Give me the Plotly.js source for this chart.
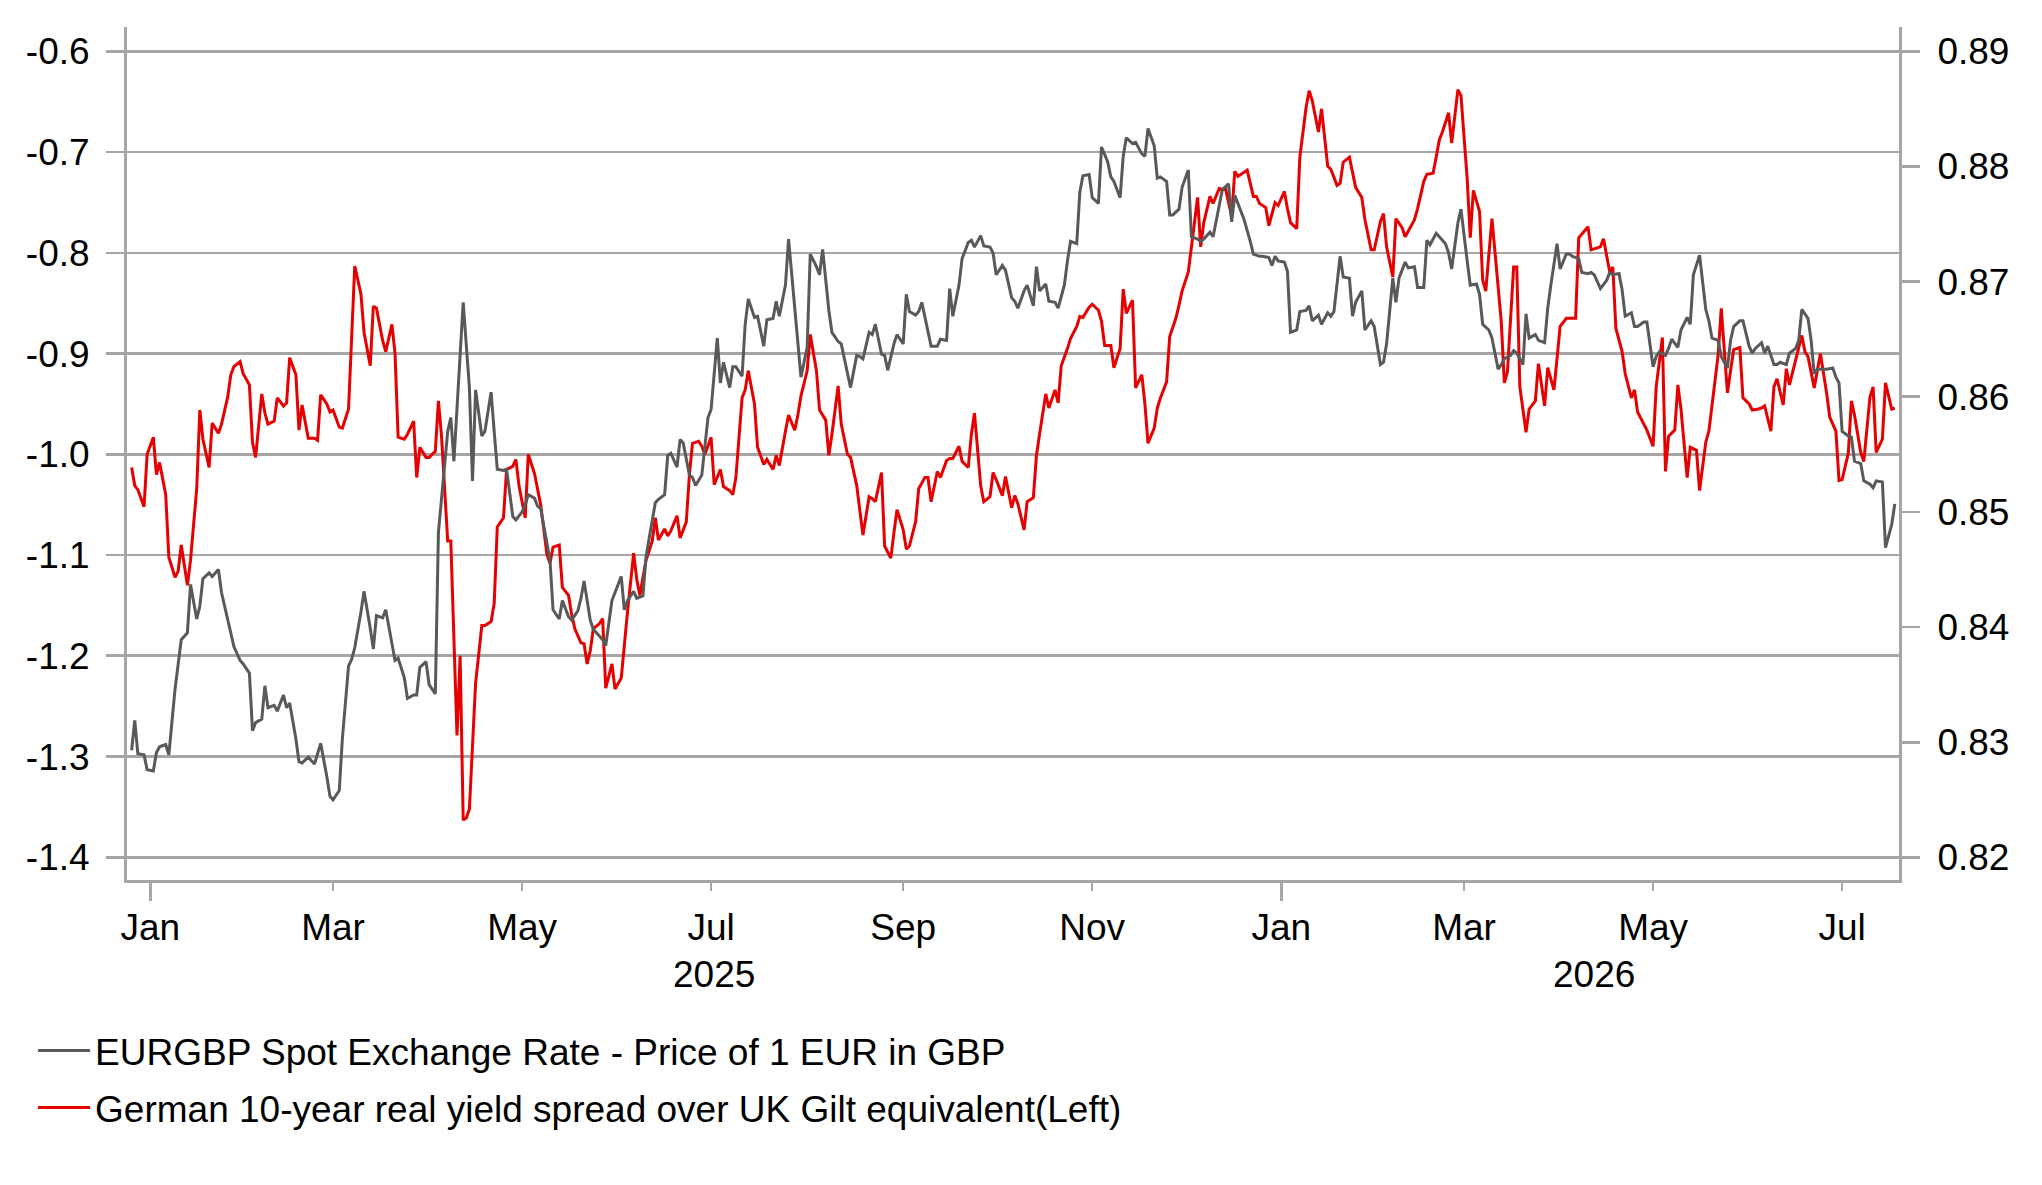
<!DOCTYPE html>
<html>
<head>
<meta charset="utf-8">
<script src="https://cdn.plot.ly/plotly-3.0.1.min.js"></script>
<style>
  html, body { margin: 0; padding: 0; background: #fff; }
  #chart { width: 2042px; height: 1185px; }
</style>
</head>
<body>
<div id="chart"></div>
<script>
// German 10y real yield spread over UK gilt (left axis)
var spreadDates = [
  "2024-12-26","2024-12-27","2024-12-28","2024-12-30","2024-12-31",
  "2025-01-02","2025-01-03","2025-01-04","2025-01-06","2025-01-07","2025-01-09","2025-01-10","2025-01-11","2025-01-13","2025-01-14","2025-01-16","2025-01-17","2025-01-18","2025-01-20","2025-01-21","2025-01-23","2025-01-24","2025-01-26","2025-01-27","2025-01-28","2025-01-30","2025-01-31",
  "2025-02-02","2025-02-03","2025-02-04","2025-02-06","2025-02-07","2025-02-08","2025-02-10","2025-02-11","2025-02-13","2025-02-14","2025-02-15","2025-02-17","2025-02-18","2025-02-19","2025-02-21","2025-02-23","2025-02-24","2025-02-25","2025-02-27","2025-02-28",
  "2025-03-01","2025-03-03","2025-03-04","2025-03-06","2025-03-07","2025-03-08","2025-03-10","2025-03-11","2025-03-13","2025-03-14","2025-03-15","2025-03-17","2025-03-18","2025-03-20","2025-03-21","2025-03-22","2025-03-24","2025-03-25","2025-03-27","2025-03-28","2025-03-29","2025-03-31",
  "2025-04-01","2025-04-03","2025-04-04","2025-04-05","2025-04-07","2025-04-08","2025-04-10","2025-04-11","2025-04-12","2025-04-13","2025-04-14","2025-04-15","2025-04-16","2025-04-18","2025-04-19","2025-04-21","2025-04-22","2025-04-23","2025-04-25","2025-04-26","2025-04-28","2025-04-29","2025-04-30",
  "2025-05-02","2025-05-03","2025-05-05","2025-05-06","2025-05-07","2025-05-09","2025-05-10","2025-05-11","2025-05-13","2025-05-14","2025-05-16","2025-05-17","2025-05-18","2025-05-20","2025-05-21","2025-05-22","2025-05-23","2025-05-24","2025-05-26","2025-05-27","2025-05-28","2025-05-30","2025-05-31",
  "2025-06-02","2025-06-03","2025-06-04","2025-06-06","2025-06-07","2025-06-08","2025-06-10","2025-06-11","2025-06-12","2025-06-13","2025-06-14","2025-06-16","2025-06-17","2025-06-18","2025-06-20","2025-06-21","2025-06-23","2025-06-24","2025-06-25","2025-06-27","2025-06-28","2025-06-29",
  "2025-07-01","2025-07-02","2025-07-04","2025-07-05","2025-07-07","2025-07-08","2025-07-09","2025-07-11","2025-07-12","2025-07-13","2025-07-15","2025-07-16","2025-07-18","2025-07-19","2025-07-21","2025-07-22","2025-07-23","2025-07-25","2025-07-26","2025-07-28","2025-07-29","2025-07-30",
  "2025-08-01","2025-08-02","2025-08-04","2025-08-05","2025-08-07","2025-08-08","2025-08-09","2025-08-11","2025-08-12","2025-08-14","2025-08-15","2025-08-17","2025-08-18","2025-08-19","2025-08-21","2025-08-22","2025-08-23","2025-08-25","2025-08-26","2025-08-28","2025-08-29","2025-08-30",
  "2025-09-01","2025-09-02","2025-09-03","2025-09-05","2025-09-06","2025-09-08","2025-09-09","2025-09-10","2025-09-12","2025-09-13","2025-09-15","2025-09-16","2025-09-17","2025-09-19","2025-09-20","2025-09-22","2025-09-23","2025-09-24","2025-09-26","2025-09-27","2025-09-29","2025-09-30",
  "2025-10-01","2025-10-03","2025-10-04","2025-10-06","2025-10-07","2025-10-08","2025-10-10","2025-10-11","2025-10-13","2025-10-14","2025-10-15","2025-10-17","2025-10-18","2025-10-20","2025-10-21","2025-10-22","2025-10-24","2025-10-25","2025-10-27","2025-10-28","2025-10-29","2025-10-31",
  "2025-11-01","2025-11-03","2025-11-04","2025-11-05","2025-11-07","2025-11-08","2025-11-10","2025-11-11","2025-11-12","2025-11-14","2025-11-15","2025-11-17","2025-11-18","2025-11-19","2025-11-21","2025-11-22","2025-11-23","2025-11-25","2025-11-26","2025-11-28","2025-11-29","2025-11-30",
  "2025-12-02","2025-12-03","2025-12-04","2025-12-05","2025-12-06","2025-12-07","2025-12-09","2025-12-10","2025-12-12","2025-12-13","2025-12-14","2025-12-16","2025-12-17","2025-12-18","2025-12-20","2025-12-21","2025-12-23","2025-12-24","2025-12-25","2025-12-27","2025-12-28","2025-12-30","2025-12-31",
  "2026-01-02","2026-01-03","2026-01-04","2026-01-06","2026-01-07","2026-01-09","2026-01-10","2026-01-11","2026-01-13","2026-01-14","2026-01-16","2026-01-17","2026-01-19","2026-01-20","2026-01-21","2026-01-23","2026-01-24","2026-01-25","2026-01-27","2026-01-28","2026-01-30","2026-01-31",
  "2026-02-02","2026-02-03","2026-02-04","2026-02-06","2026-02-07","2026-02-09","2026-02-10","2026-02-11","2026-02-13","2026-02-14","2026-02-16","2026-02-17","2026-02-19","2026-02-20","2026-02-21","2026-02-22","2026-02-24","2026-02-25","2026-02-27","2026-02-28",
  "2026-03-02","2026-03-03","2026-03-04","2026-03-06","2026-03-07","2026-03-08","2026-03-10","2026-03-11","2026-03-13","2026-03-14","2026-03-15","2026-03-17","2026-03-18","2026-03-19","2026-03-21","2026-03-22","2026-03-24","2026-03-25","2026-03-27","2026-03-28","2026-03-30","2026-03-31",
  "2026-04-01","2026-04-03","2026-04-04","2026-04-06","2026-04-07","2026-04-08","2026-04-10","2026-04-11","2026-04-12","2026-04-14","2026-04-15","2026-04-17","2026-04-18","2026-04-19","2026-04-21","2026-04-22","2026-04-24","2026-04-25","2026-04-26","2026-04-28","2026-04-29",
  "2026-05-01","2026-05-02","2026-05-04","2026-05-05","2026-05-06","2026-05-08","2026-05-09","2026-05-10","2026-05-12","2026-05-13","2026-05-15","2026-05-16","2026-05-18","2026-05-19","2026-05-20","2026-05-22","2026-05-23","2026-05-25","2026-05-26","2026-05-27","2026-05-29","2026-05-30",
  "2026-06-01","2026-06-02","2026-06-04","2026-06-05","2026-06-06","2026-06-08","2026-06-09","2026-06-10","2026-06-12","2026-06-13","2026-06-14","2026-06-16","2026-06-18","2026-06-19","2026-06-20","2026-06-22","2026-06-23","2026-06-24","2026-06-26","2026-06-27","2026-06-29","2026-06-30",
  "2026-07-01","2026-07-03","2026-07-04","2026-07-05","2026-07-07","2026-07-08","2026-07-10","2026-07-11","2026-07-12","2026-07-14","2026-07-15","2026-07-17","2026-07-18"
];
var spreadValues = [
  -1.013,-1.031,-1.035,-1.052,-1.000,
  -0.983,-1.020,-1.008,-1.040,-1.102,-1.122,-1.116,-1.090,-1.130,-1.105,-1.034,-0.956,-0.985,-1.013,-0.969,-0.979,-0.970,-0.943,-0.921,-0.913,-0.908,-0.920,
  -0.931,-0.988,-1.003,-0.940,-0.959,-0.970,-0.967,-0.944,-0.952,-0.949,-0.904,-0.921,-0.976,-0.951,-0.984,-0.984,-0.986,-0.941,-0.950,-0.958,
  -0.956,-0.973,-0.974,-0.955,-0.890,-0.813,-0.841,-0.879,-0.912,-0.853,-0.855,-0.887,-0.898,-0.871,-0.900,-0.983,-0.985,-0.980,-0.967,-1.023,-0.993,-1.003,
  -1.003,-0.997,-0.947,-0.982,-1.086,-1.086,-1.279,-1.200,-1.363,-1.361,-1.352,-1.287,-1.227,-1.170,-1.170,-1.166,-1.148,-1.072,-1.063,-1.015,-1.012,-1.005,-1.031,
  -1.063,-1.000,-1.019,-1.034,-1.050,-1.099,-1.108,-1.092,-1.090,-1.132,-1.140,-1.159,-1.173,-1.187,-1.188,-1.208,-1.195,-1.173,-1.168,-1.163,-1.232,-1.208,-1.233,
  -1.222,-1.189,-1.157,-1.098,-1.124,-1.140,-1.105,-1.096,-1.086,-1.063,-1.085,-1.074,-1.081,-1.076,-1.061,-1.083,-1.067,-1.020,-0.989,-0.987,-0.992,-1.000,
  -0.983,-1.030,-1.015,-1.032,-1.036,-1.040,-1.023,-0.944,-0.936,-0.917,-0.950,-0.993,-1.010,-1.005,-1.015,-1.001,-1.011,-0.977,-0.961,-0.976,-0.961,-0.942,
  -0.917,-0.881,-0.917,-0.956,-0.966,-1.001,-0.980,-0.932,-0.970,-1.000,-1.003,-1.031,-1.053,-1.080,-1.042,-1.044,-1.047,-1.018,-1.091,-1.103,-1.078,-1.055,
  -1.075,-1.094,-1.091,-1.067,-1.034,-1.023,-1.023,-1.047,-1.017,-1.023,-1.006,-1.004,-1.004,-0.992,-1.007,-1.013,-0.980,-0.959,-1.031,-1.047,-1.042,-1.018,
  -1.025,-1.041,-1.022,-1.053,-1.041,-1.049,-1.075,-1.047,-1.043,-1.001,-0.980,-0.940,-0.954,-0.936,-0.949,-0.912,-0.895,-0.885,-0.873,-0.863,-0.864,-0.854,
  -0.851,-0.857,-0.868,-0.892,-0.892,-0.914,-0.895,-0.836,-0.860,-0.847,-0.934,-0.921,-0.950,-0.989,-0.974,-0.954,-0.944,-0.928,-0.883,-0.865,-0.852,-0.838,
  -0.819,-0.794,-0.773,-0.745,-0.794,-0.770,-0.744,-0.751,-0.736,-0.737,-0.736,-0.764,-0.719,-0.724,-0.720,-0.718,-0.744,-0.744,-0.751,-0.755,-0.773,-0.750,-0.753,
  -0.739,-0.756,-0.770,-0.776,-0.705,-0.656,-0.639,-0.649,-0.680,-0.657,-0.714,-0.717,-0.733,-0.731,-0.710,-0.705,-0.720,-0.735,-0.745,-0.767,-0.797,-0.797,
  -0.769,-0.761,-0.794,-0.824,-0.766,-0.775,-0.784,-0.778,-0.767,-0.756,-0.729,-0.722,-0.721,-0.705,-0.688,-0.680,-0.661,-0.691,-0.638,-0.644,
  -0.726,-0.785,-0.738,-0.759,-0.827,-0.838,-0.766,-0.800,-0.868,-0.929,-0.918,-0.814,-0.814,-0.933,-0.978,-0.955,-0.947,-0.910,-0.952,-0.914,-0.936,-0.905,
  -0.873,-0.865,-0.865,-0.865,-0.785,-0.781,-0.774,-0.797,-0.796,-0.794,-0.786,-0.819,-0.814,-0.875,-0.898,-0.920,-0.944,-0.936,-0.958,-0.970,-0.976,
  -0.992,-0.933,-0.884,-1.017,-0.982,-0.976,-0.931,-0.955,-1.023,-0.993,-0.996,-1.036,-0.988,-0.977,-0.952,-0.901,-0.855,-0.939,-0.917,-0.896,-0.894,-0.944,
  -0.950,-0.956,-0.955,-0.954,-0.952,-0.977,-0.933,-0.925,-0.951,-0.915,-0.931,-0.906,-0.882,-0.898,-0.903,-0.934,-0.917,-0.900,-0.939,-0.963,-0.977,-1.026,
  -1.025,-0.999,-0.947,-0.961,-0.998,-1.007,-0.943,-0.933,-0.998,-0.985,-0.929,-0.955,-0.954
];

// EURGBP spot (right axis)
var eurgbpDates = [
  "2024-12-26","2024-12-27","2024-12-28","2024-12-30","2024-12-31",
  "2025-01-02","2025-01-03","2025-01-04","2025-01-06","2025-01-07","2025-01-09","2025-01-10","2025-01-11","2025-01-13","2025-01-14","2025-01-16","2025-01-17","2025-01-18","2025-01-20","2025-01-21","2025-01-23","2025-01-24","2025-01-26","2025-01-27","2025-01-28","2025-01-30","2025-01-31",
  "2025-02-02","2025-02-03","2025-02-04","2025-02-06","2025-02-07","2025-02-08","2025-02-10","2025-02-11","2025-02-13","2025-02-14","2025-02-15","2025-02-17","2025-02-18","2025-02-19","2025-02-21","2025-02-23","2025-02-24","2025-02-25","2025-02-27","2025-02-28",
  "2025-03-01","2025-03-03","2025-03-04","2025-03-06","2025-03-07","2025-03-08","2025-03-10","2025-03-11","2025-03-13","2025-03-14","2025-03-15","2025-03-17","2025-03-18","2025-03-20","2025-03-21","2025-03-22","2025-03-24","2025-03-25","2025-03-27","2025-03-28","2025-03-29","2025-03-31",
  "2025-04-01","2025-04-03","2025-04-04","2025-04-07","2025-04-08","2025-04-09","2025-04-11","2025-04-12","2025-04-14","2025-04-15","2025-04-16","2025-04-18","2025-04-19","2025-04-21","2025-04-22","2025-04-23","2025-04-25","2025-04-26","2025-04-28","2025-04-29",
  "2025-05-01","2025-05-02","2025-05-03","2025-05-05","2025-05-06","2025-05-07","2025-05-09","2025-05-10","2025-05-11","2025-05-13","2025-05-14","2025-05-16","2025-05-17","2025-05-19","2025-05-20","2025-05-21","2025-05-23","2025-05-24","2025-05-25","2025-05-27","2025-05-28","2025-05-30","2025-05-31",
  "2025-06-02","2025-06-03","2025-06-04","2025-06-06","2025-06-07","2025-06-09","2025-06-10","2025-06-11","2025-06-13","2025-06-14","2025-06-16","2025-06-17","2025-06-18","2025-06-20","2025-06-21","2025-06-22","2025-06-24","2025-06-25","2025-06-26","2025-06-28","2025-06-29","2025-06-30",
  "2025-07-01","2025-07-03","2025-07-04","2025-07-05","2025-07-07","2025-07-08","2025-07-09","2025-07-11","2025-07-12","2025-07-13","2025-07-15","2025-07-16","2025-07-18","2025-07-19","2025-07-21","2025-07-22","2025-07-23","2025-07-25","2025-07-26","2025-07-28","2025-07-29","2025-07-30",
  "2025-08-01","2025-08-02","2025-08-04","2025-08-05","2025-08-06","2025-08-08","2025-08-09","2025-08-11","2025-08-12","2025-08-14","2025-08-15","2025-08-17","2025-08-18","2025-08-19","2025-08-21","2025-08-22","2025-08-23","2025-08-25","2025-08-26","2025-08-27","2025-08-29","2025-08-30",
  "2025-09-01","2025-09-02","2025-09-03","2025-09-05","2025-09-06","2025-09-07","2025-09-09","2025-09-10","2025-09-12","2025-09-13","2025-09-15","2025-09-16","2025-09-17","2025-09-19","2025-09-20","2025-09-22","2025-09-23","2025-09-24","2025-09-26","2025-09-27","2025-09-29","2025-09-30",
  "2025-10-01","2025-10-03","2025-10-04","2025-10-06","2025-10-07","2025-10-08","2025-10-10","2025-10-11","2025-10-13","2025-10-14","2025-10-15","2025-10-17","2025-10-18","2025-10-20","2025-10-21","2025-10-23","2025-10-24","2025-10-25","2025-10-27","2025-10-28","2025-10-29","2025-10-31",
  "2025-11-01","2025-11-03","2025-11-04","2025-11-06","2025-11-07","2025-11-08","2025-11-10","2025-11-11","2025-11-12","2025-11-14","2025-11-15","2025-11-17","2025-11-18","2025-11-19","2025-11-21","2025-11-22","2025-11-23","2025-11-25","2025-11-26","2025-11-27","2025-11-29","2025-11-30",
  "2025-12-02","2025-12-03","2025-12-05","2025-12-06","2025-12-07","2025-12-09","2025-12-10","2025-12-12","2025-12-13","2025-12-15","2025-12-16","2025-12-17","2025-12-19","2025-12-20","2025-12-22","2025-12-23","2025-12-25","2025-12-26","2025-12-28","2025-12-29","2025-12-30","2025-12-31",
  "2026-01-02","2026-01-03","2026-01-04","2026-01-06","2026-01-07","2026-01-09","2026-01-10","2026-01-11","2026-01-13","2026-01-14","2026-01-16","2026-01-17","2026-01-18","2026-01-20","2026-01-21","2026-01-23","2026-01-24","2026-01-25","2026-01-27","2026-01-28","2026-01-30","2026-01-31",
  "2026-02-02","2026-02-03","2026-02-04","2026-02-06","2026-02-07","2026-02-08","2026-02-10","2026-02-11","2026-02-13","2026-02-14","2026-02-16","2026-02-17","2026-02-18","2026-02-20","2026-02-21","2026-02-23","2026-02-24","2026-02-25","2026-02-27","2026-02-28",
  "2026-03-02","2026-03-03","2026-03-05","2026-03-06","2026-03-07","2026-03-09","2026-03-10","2026-03-12","2026-03-13","2026-03-14","2026-03-16","2026-03-17","2026-03-18","2026-03-20","2026-03-21","2026-03-22","2026-03-24","2026-03-25","2026-03-27","2026-03-28","2026-03-29","2026-03-31",
  "2026-04-01","2026-04-03","2026-04-04","2026-04-05","2026-04-07","2026-04-08","2026-04-10","2026-04-11","2026-04-12","2026-04-14","2026-04-16","2026-04-17","2026-04-18","2026-04-20","2026-04-21","2026-04-22","2026-04-24","2026-04-25","2026-04-26","2026-04-28","2026-04-29",
  "2026-05-01","2026-05-02","2026-05-03","2026-05-05","2026-05-06","2026-05-07","2026-05-09","2026-05-10","2026-05-12","2026-05-13","2026-05-14","2026-05-16","2026-05-18","2026-05-19","2026-05-20","2026-05-22","2026-05-23","2026-05-25","2026-05-26","2026-05-27","2026-05-29","2026-05-30",
  "2026-06-01","2026-06-02","2026-06-03","2026-06-05","2026-06-06","2026-06-07","2026-06-09","2026-06-10","2026-06-11","2026-06-13","2026-06-14","2026-06-16","2026-06-17","2026-06-18","2026-06-20","2026-06-21","2026-06-22","2026-06-23","2026-06-25","2026-06-26","2026-06-28","2026-06-29","2026-06-30",
  "2026-07-01","2026-07-03","2026-07-04","2026-07-05","2026-07-07","2026-07-08","2026-07-10","2026-07-11","2026-07-12","2026-07-14","2026-07-15","2026-07-17","2026-07-18"
];
var eurgbpValues = [
  0.8293,0.8319,0.8290,0.8289,0.8276,
  0.8275,0.8291,0.8296,0.8298,0.8289,0.8346,0.8368,0.8389,0.8395,0.8437,0.8407,0.8418,0.8442,0.8447,0.8444,0.8450,0.8430,0.8406,0.8395,0.8383,0.8371,0.8368,
  0.8360,0.8310,0.8317,0.8320,0.8349,0.8330,0.8332,0.8327,0.8341,0.8330,0.8334,0.8303,0.8283,0.8282,0.8287,0.8281,0.8290,0.8299,0.8270,0.8253,
  0.8250,0.8258,0.8303,0.8366,0.8372,0.8382,0.8413,0.8431,0.8399,0.8381,0.8410,0.8408,0.8415,0.8387,0.8371,0.8373,0.8356,0.8338,0.8341,0.8341,0.8365,0.8370,
  0.8350,0.8342,0.8482,0.8570,0.8582,0.8544,0.8642,0.8682,0.8608,0.8527,0.8606,0.8566,0.8570,0.8604,0.8570,0.8537,0.8536,0.8537,0.8496,0.8493,
  0.8500,0.8506,0.8515,0.8512,0.8505,0.8503,0.8473,0.8458,0.8415,0.8407,0.8423,0.8409,0.8406,0.8414,0.8425,0.8440,0.8406,0.8398,0.8395,0.8389,0.8384,0.8423,0.8430,
  0.8444,0.8415,0.8423,0.8431,0.8425,0.8427,0.8461,0.8477,0.8508,0.8511,0.8515,0.8549,0.8551,0.8539,0.8563,0.8560,0.8532,0.8530,0.8523,0.8532,0.8556,0.8582,
  0.8589,0.8651,0.8612,0.8630,0.8608,0.8626,0.8626,0.8618,0.8663,0.8685,0.8669,0.8670,0.8644,0.8667,0.8668,0.8683,0.8670,0.8697,0.8737,0.8675,0.8647,0.8617,
  0.8643,0.8724,0.8713,0.8706,0.8728,0.8675,0.8656,0.8648,0.8646,0.8620,0.8608,0.8636,0.8635,0.8633,0.8656,0.8654,0.8663,0.8637,0.8636,0.8623,0.8646,0.8654,
  0.8646,0.8689,0.8674,0.8671,0.8674,0.8682,0.8656,0.8644,0.8644,0.8650,0.8649,0.8694,0.8670,0.8697,0.8720,0.8734,0.8736,0.8730,0.8740,0.8731,0.8730,0.8725,
  0.8706,0.8714,0.8710,0.8686,0.8683,0.8677,0.8692,0.8697,0.8679,0.8713,0.8692,0.8698,0.8683,0.8682,0.8677,0.8697,0.8718,0.8735,0.8733,0.8778,0.8792,0.8793,
  0.8773,0.8768,0.8817,0.8804,0.8791,0.8787,0.8773,0.8809,0.8825,0.8820,0.8821,0.8811,0.8809,0.8833,0.8818,0.8790,0.8791,0.8787,0.8758,0.8758,0.8763,0.8782,
  0.8797,0.8739,0.8737,0.8735,0.8737,0.8743,0.8739,0.8765,0.8780,0.8785,0.8752,0.8775,0.8762,0.8754,0.8735,0.8724,0.8722,0.8722,0.8721,0.8714,0.8722,0.8718,
  0.8717,0.8709,0.8656,0.8658,0.8674,0.8675,0.8679,0.8666,0.8671,0.8663,0.8673,0.8670,0.8674,0.8722,0.8704,0.8703,0.8670,0.8682,0.8692,0.8658,0.8666,0.8661,
  0.8628,0.8630,0.8646,0.8703,0.8682,0.8703,0.8717,0.8712,0.8713,0.8695,0.8695,0.8736,0.8732,0.8742,0.8739,0.8733,0.8725,0.8711,0.8751,0.8763,
  0.8718,0.8697,0.8698,0.8689,0.8663,0.8658,0.8651,0.8624,0.8628,0.8633,0.8636,0.8640,0.8638,0.8628,0.8672,0.8651,0.8654,0.8649,0.8647,0.8677,0.8697,0.8733,
  0.8711,0.8724,0.8724,0.8722,0.8720,0.8708,0.8707,0.8708,0.8706,0.8694,0.8701,0.8708,0.8706,0.8707,0.8693,0.8670,0.8673,0.8661,0.8661,0.8665,0.8665,
  0.8626,0.8635,0.8639,0.8636,0.8642,0.8650,0.8643,0.8658,0.8669,0.8663,0.8706,0.8723,0.8676,0.8666,0.8651,0.8649,0.8635,0.8625,0.8649,0.8661,0.8666,0.8666,
  0.8644,0.8638,0.8642,0.8647,0.8638,0.8644,0.8628,0.8628,0.8630,0.8628,0.8638,0.8642,0.8649,0.8676,0.8668,0.8649,0.8620,0.8624,0.8624,0.8624,0.8625,0.8617,0.8612,
  0.8570,0.8566,0.8565,0.8544,0.8542,0.8527,0.8524,0.8521,0.8527,0.8526,0.8469,0.8489,0.8507
];

// axis labels
var monthTicks = ["2025-01-01","2025-03-01","2025-05-01","2025-07-01","2025-09-01","2025-11-01",
                  "2026-01-01","2026-03-01","2026-05-01","2026-07-01"];
var monthLabels = ["Jan","Mar","May","Jul","Sep","Nov","Jan","Mar","May","Jul"];
var yearTicks = ["2025-01-01","2026-01-01"];
var yearLabels = ["2025","2026"];
var yearCentres = ["2025-07-02","2026-04-12"];
var leftTicks = [-0.6,-0.7,-0.8,-0.9,-1.0,-1.1,-1.2,-1.3,-1.4];
var leftLabels = ["-0.6","-0.7","-0.8","-0.9","-1.0","-1.1","-1.2","-1.3","-1.4"];

var grey = "#a6a6a6";
var fontFamily = "Liberation Sans, Arial, sans-serif";

var traces = [
  {
    x: eurgbpDates, y: eurgbpValues, yaxis: "y2",
    type: "scatter", mode: "lines",
    name: "EURGBP Spot Exchange Rate - Price of 1 EUR in GBP",
    legendgroup: "g1",
    line: { color: "#595959", width: 3 }
  },
  {
    x: spreadDates, y: spreadValues, yaxis: "y",
    type: "scatter", mode: "lines",
    name: "German 10-year real yield spread over UK Gilt equivalent(Left)",
    legendgroup: "g2",
    line: { color: "#e60000", width: 3 }
  }
];

var annotations = [];
for (var i = 0; i < yearLabels.length; i++) {
  annotations.push({
    x: yearCentres[i], y: -0.111, xref: "x", yref: "paper",
    text: yearLabels[i], showarrow: false, yanchor: "middle",
    font: { family: fontFamily, size: 37, color: "#000" }
  });
}

var layout = {
  width: 2042, height: 1185,
  margin: { l: 127, r: 143, t: 27, b: 305 },
  paper_bgcolor: "#fff", plot_bgcolor: "#fff",
  font: { family: fontFamily, size: 37, color: "#000" },
  showlegend: true,
  legend: {
    x: -0.053, xanchor: "left", y: -0.164, yanchor: "top",
    orientation: "v", tracegroupgap: 6, itemwidth: 52,
    bgcolor: "rgba(0,0,0,0)",
    font: { family: fontFamily, size: 37, color: "#000" }
  },
  xaxis: {
    type: "date",
    range: ["2024-12-24 12:00", "2026-07-19 08:40"],
    tickvals: monthTicks, ticktext: monthLabels,
    ticks: "outside", ticklen: 8, tickwidth: 2.5, tickcolor: grey,
    minor: { tickmode: "array", tickvals: yearTicks, ticks: "outside",
             ticklen: 18, tickwidth: 3, tickcolor: grey, showgrid: false },
    showline: true, linecolor: grey, linewidth: 3,
    showgrid: false, zeroline: false,
    ticklabelstandoff: 5
  },
  yaxis: {
    range: [-1.4225, -0.5758],
    tickvals: leftTicks, ticktext: leftLabels,
    ticks: "outside", ticklen: 18, tickwidth: 2.7, tickcolor: grey,
    showline: true, linecolor: grey, linewidth: 3,
    showgrid: true, gridcolor: grey, gridwidth: 2.7,
    zeroline: false, ticklabelstandoff: 9
  },
  yaxis2: {
    overlaying: "y", side: "right",
    range: [0.81803, 0.89212],
    tick0: 0.82, dtick: 0.01, tickformat: ".2f",
    ticks: "outside", ticklen: 18, tickwidth: 2.7, tickcolor: grey,
    showline: true, linecolor: grey, linewidth: 3,
    showgrid: false, zeroline: false, ticklabelstandoff: 10
  },
  annotations: annotations
};

Plotly.newPlot("chart", traces, layout, { staticPlot: true, displayModeBar: false });
</script>
</body>
</html>
